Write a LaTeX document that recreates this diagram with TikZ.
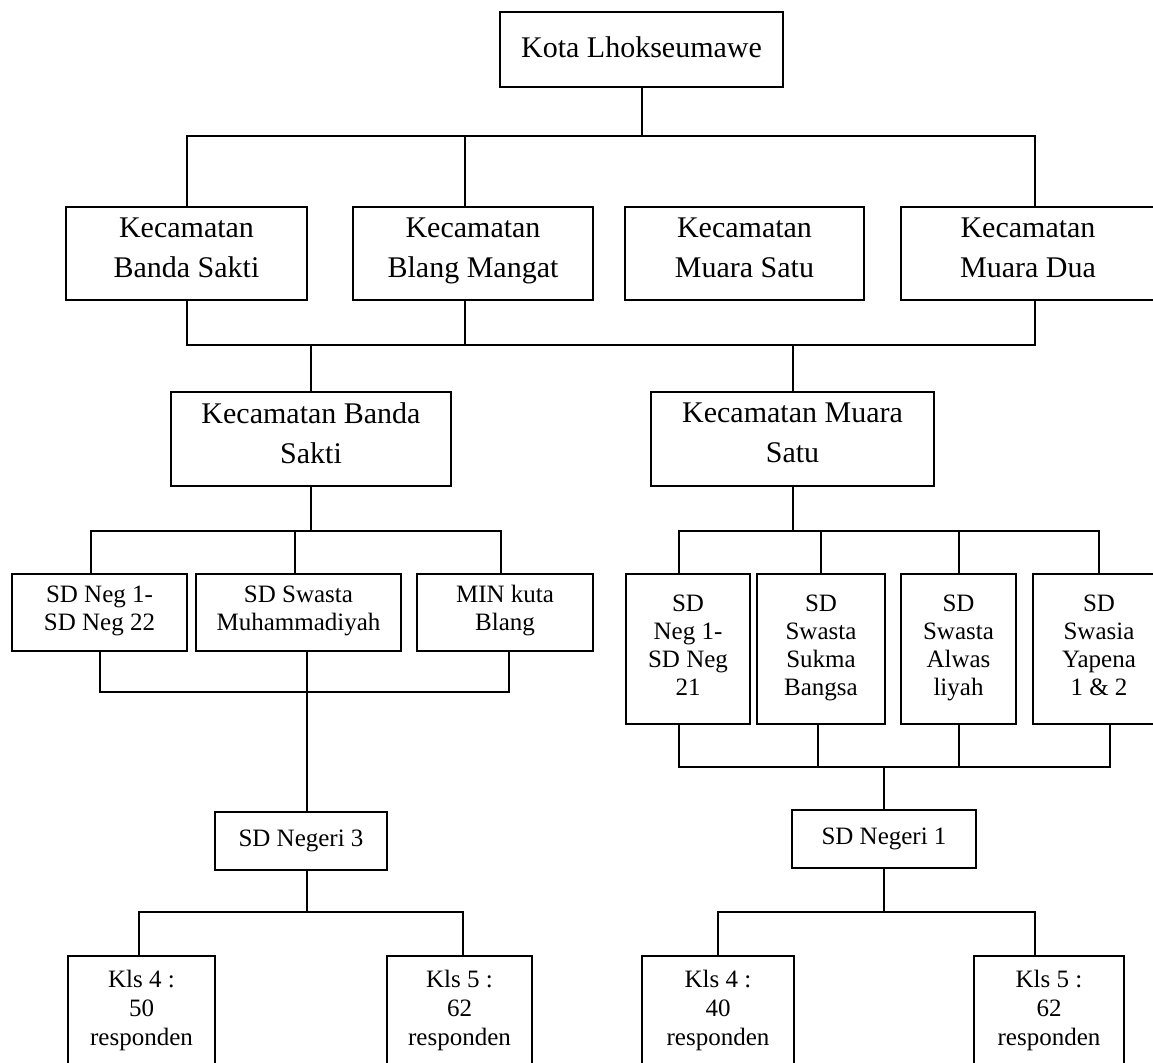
\documentclass[tikz,border=0pt]{standalone}
\usepackage{fontspec}
\setmainfont{Liberation Serif}
\usepackage{tikz}

\begin{document}
\begin{tikzpicture}[x=0.5pt, y=-0.5pt, line width=1pt,
        kotak/.style={draw, align=center, inner sep=0pt, font=\fontsize{15}{20}\selectfont,
            execute at begin node=\strut, execute at end node=\strut},
        kotakkecil/.style={kotak, font=\fontsize{12.5}{14}\selectfont},
        kelas/.style={kotak, font=\fontsize{12.5}{14.5}\selectfont}]
            % \draw[help lines] (0, 0) grid (1153, 1063);
            \useasboundingbox (0,0) rectangle (1153,1063);
            \clip (0,0) rectangle (1153,1063);
            \coordinate (j1) at (0,136);
            \coordinate (j2) at (0,345);
            \coordinate (j3) at (0,531);
            \coordinate (j4) at (0,692);
            \coordinate (j5) at (0,767);
            \coordinate (j6) at (0,912);

            \node[kotak, minimum width=141.5pt, minimum height=37.5pt] (kota) at (641.5,49.5) {Kota Lhokseumawe};

            \node[kotak, minimum width=120.5pt, minimum height=46.5pt] (bs1) at (186.5,253.5) {Kecamatan\\Banda Sakti};
            \node[kotak, minimum width=120pt, minimum height=46.5pt] (bm) at (473,253.5) {Kecamatan\\Blang Mangat};
            \node[kotak, minimum width=119.5pt, minimum height=46.5pt] (ms1) at (744.5,253.5) {Kecamatan\\Muara Satu};
            \node[kotak, minimum width=127pt, minimum height=46.5pt] (md) at (1028,253.5) {Kecamatan\\Muara Dua};

            \node[kotak, minimum width=140pt, minimum height=47pt] (bs2) at (311,439) {Kecamatan Banda\\Sakti};
            \node[kotak, minimum width=141.5pt, minimum height=47pt] (ms2) at (792.5,439) {Kecamatan Muara\\Satu};

            \node[kotakkecil, minimum width=87.5pt, minimum height=38.5pt] (sdl1) at (99.5,612.5) {SD Neg 1-\\SD Neg 22};
            \node[kotakkecil, minimum width=102.5pt, minimum height=38.5pt] (sdl2) at (298.5,612.5) {SD Swasta\\Muhammadiyah};
            \node[kotakkecil, minimum width=88pt, minimum height=38.5pt] (sdl3) at (505,612.5) {MIN kuta\\Blang};

            \node[kotakkecil, minimum width=62pt, minimum height=75pt] (sdr1) at (688,649) {SD\\Neg 1-\\SD Neg\\21};
            \node[kotakkecil, minimum width=64pt, minimum height=75pt] (sdr2) at (821,649) {SD\\Swasta\\Sukma\\Bangsa};
            \node[kotakkecil, minimum width=57.5pt, minimum height=75pt] (sdr3) at (958.5,649) {SD\\Swasta\\Alwas\\liyah};
            \node[kotakkecil, minimum width=66pt, minimum height=75pt] (sdr4) at (1099,649) {SD\\Swasia\\Yapena\\1 \& 2};

            \node[kotakkecil, minimum width=86pt, minimum height=29pt] (sdn3) at (301,841) {SD Negeri 3};
            \node[kotakkecil, minimum width=92pt, minimum height=29pt] (sdn1) at (884,839) {SD Negeri 1};

            \node[kelas, minimum width=73.5pt, minimum height=56pt] (k1) at (141.5,1012) {Kls 4 :\\50\\responden};
            \node[kelas, minimum width=72.5pt, minimum height=56pt] (k2) at (459.5,1012) {Kls 5 :\\62\\responden};
            \node[kelas, minimum width=76pt, minimum height=56pt] (k3) at (718,1012) {Kls 4 :\\40\\responden};
            \node[kelas, minimum width=75pt, minimum height=56pt] (k4) at (1049,1012) {Kls 5 :\\62\\responden};

            % kota ke kecamatan
            \draw (kota.south) -- (kota.south |- j1);
            \draw (bs1.north) |- ([xshift=3.5pt]md.north |- j1) -- ([xshift=3.5pt]md.north);
            \draw ([xshift=-4pt]bm.north) -- ([xshift=-4pt]bm.north |- j1);

            \draw (bs1.south) |- ([xshift=3.5pt]md.south |- j2) -- ([xshift=3.5pt]md.south);
            \draw ([xshift=-4pt]bm.south) -- ([xshift=-4pt]bm.south |- j2);
            \draw (bs2.north) -- (bs2.north |- j2);
            \draw (ms2.north) -- (ms2.north |- j2);

            % kecamatan ke sekolah
            \draw (bs2.south) -- (bs2.south |- j3);
            \draw ([xshift=-4.5pt]sdl1.north) |- ([xshift=-2pt]sdl3.north |- j3) -- ([xshift=-2pt]sdl3.north);
            \draw ([xshift=-2pt]sdl2.north) -- ([xshift=-2pt]sdl2.north |- j3);

            \draw (ms2.south) -- (ms2.south |- j3);
            \draw ([xshift=-4.5pt]sdr1.north) |- (sdr4.north |- j3) -- (sdr4.north);
            \draw (sdr2.north) -- (sdr2.north |- j3);
            \draw (sdr3.north) -- (sdr3.north |- j3);

            \draw (sdl1.south) |- ([xshift=2pt]sdl3.south |- j4) -- ([xshift=2pt]sdl3.south);
            \draw ([xshift=4pt]sdl2.south) -- ([xshift=4pt]sdl2.south |- sdn3.north);

            \draw ([xshift=-4.5pt]sdr1.south) |- ([xshift=5.5pt]sdr4.south |- j5) -- ([xshift=5.5pt]sdr4.south);
            \draw ([xshift=-1.5pt]sdr2.south) -- ([xshift=-1.5pt]sdr2.south |- j5);
            \draw (sdr3.south) -- (sdr3.south |- j5);
            \draw (sdn1.north) -- (sdn1.north |- j5);

            % sekolah ke kelas
            \draw ([xshift=3pt]sdn3.south) -- ([xshift=3pt]sdn3.south |- j6);
            \draw ([xshift=-1.5pt]k1.north) |- ([xshift=1.5pt]k2.north |- j6) -- ([xshift=1.5pt]k2.north);
            \draw (sdn1.south) -- (sdn1.south |- j6);
            \draw (k3.north) |- ([xshift=-7pt]k4.north |- j6) -- ([xshift=-7pt]k4.north);
        \end{tikzpicture}
\end{document}
